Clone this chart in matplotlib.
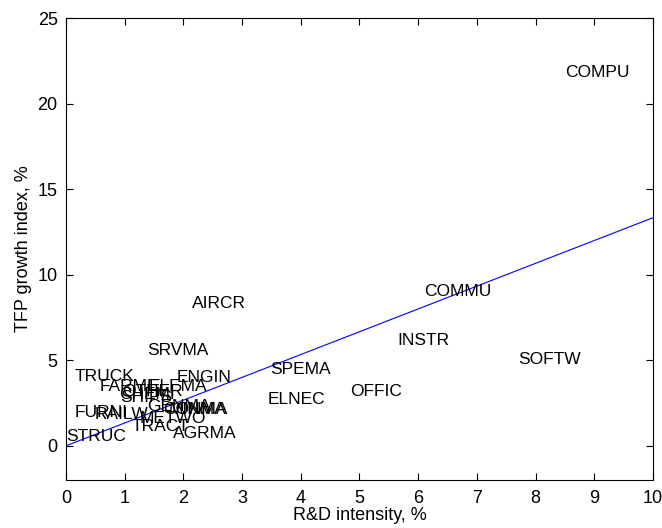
import matplotlib
matplotlib.use("Agg")
import matplotlib.pyplot as plt
import numpy as np

plt.rcParams['font.family'] = ['Liberation Sans', 'DejaVu Sans']

labels = ["COMPU", "COMMU", "INSTR", "SOFTW", "OFFIC", "ELNEC", "SPEMA", "AIRCR",
          "SRVMA", "TRUCK", "ENGIN", "FARME", "ELEMA", "OTHER", "CHEMI", "SHIPS",
          "GENMA", "CONMA", "MINMA", "FURNI", "RAILW", "METWO", "TRACT", "AGRMA", "STRUC"]
rd = [8.50, 6.10, 5.64, 7.70, 4.84, 3.44, 3.48, 2.15,
      1.38, 0.15, 1.89, 0.58, 1.40, 0.95, 0.90, 0.92,
      1.38, 1.65, 1.75, 0.15, 0.49, 1.26, 1.11, 1.82, 0.0]
tfp = [21.8, 9.0, 6.14, 5.03, 3.16, 2.69, 4.44, 8.3,
       5.56, 4.03, 4.0, 3.45, 3.45, 3.2, 3.0, 2.85,
       2.28, 2.1, 2.1, 1.93, 1.8, 1.58, 1.1, 0.7, 0.53]

fit_x = [0, 10]
fit_y = [0, 13.33]

fig = plt.figure(figsize=(6.62, 5.28), dpi=100)
ax = fig.add_axes([0.0997, 0.0909, 0.8867, 0.875])

for lab, x, y in zip(labels, rd, tfp):
    ax.text(x, y, lab, ha='left', va='center', fontsize=12.5, color='black')

ax.plot(fit_x, fit_y, color='blue', linewidth=0.8)

ax.set_xlim(0, 10)
ax.set_ylim(-2, 25)
ax.set_xticks(range(0, 11))
ax.set_yticks([0, 5, 10, 15, 20, 25])
ax.tick_params(direction='in', top=True, right=True, labelsize=13, length=5)
ax.tick_params(axis='x', pad=7)
ax.tick_params(axis='y', pad=6)
ax.set_xlabel("R&D intensity, %", fontsize=13, labelpad=0)
ax.set_ylabel("TFP growth index, %", fontsize=13, labelpad=4)
for s in ax.spines.values():
    s.set_linewidth(0.8)

fig.savefig("out.png", dpi=100)
